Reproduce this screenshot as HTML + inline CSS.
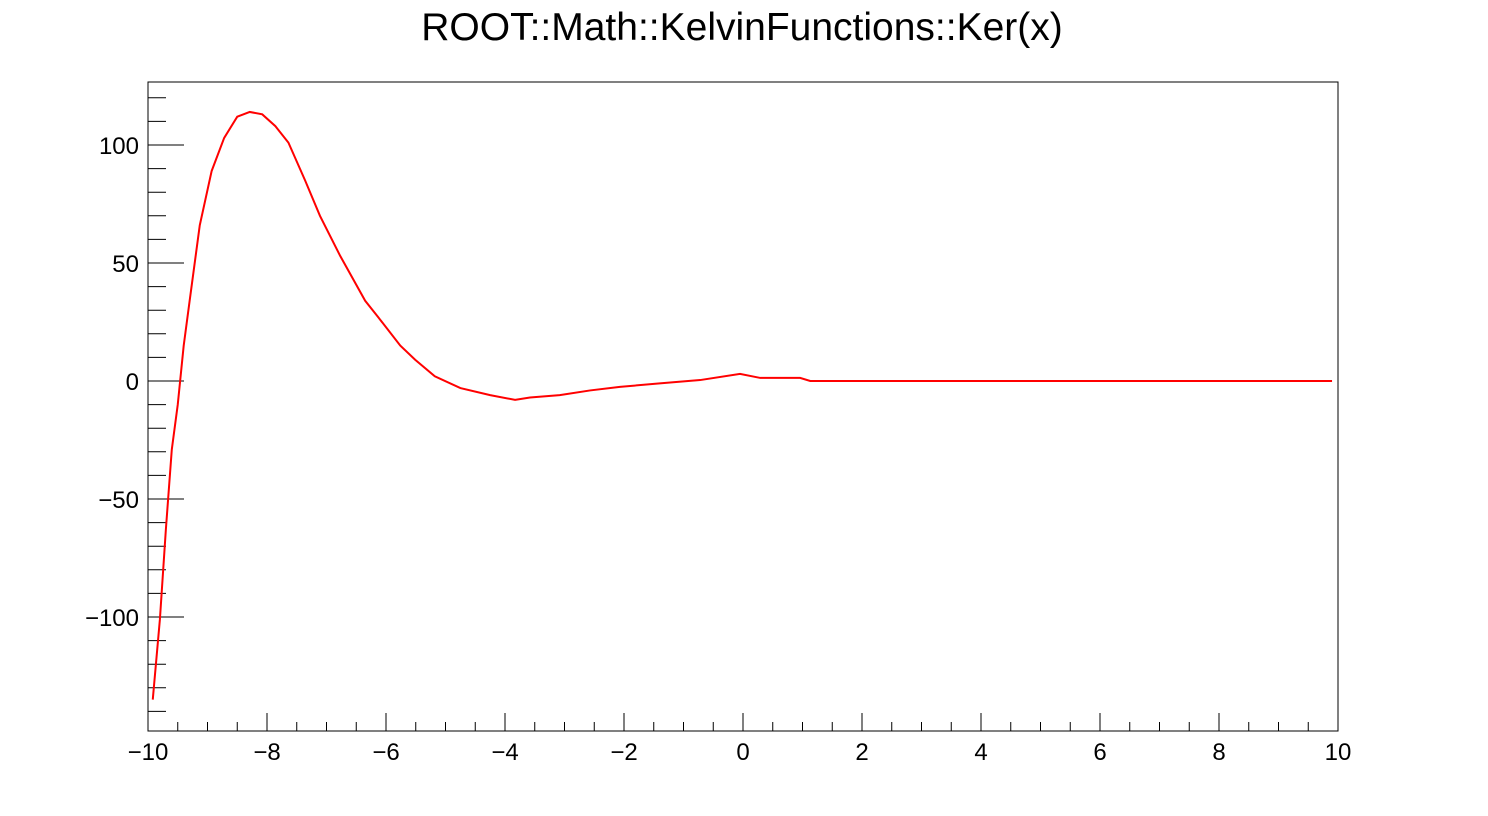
<!DOCTYPE html>
<html><head><meta charset="utf-8"><style>
body{margin:0;background:#fff}
svg{display:block;font-family:"Liberation Sans",sans-serif}
</style></head><body>
<svg id="c" width="1488" height="816">
<text x="742" y="40" font-size="39" text-anchor="middle">ROOT::Math::KelvinFunctions::Ker(x)</text>
<rect x="148" y="82" width="1190" height="649" fill="none" stroke="#000" stroke-width="1"/>
<g id="ax"></g>
<polyline id="line" fill="none" stroke="#ff0000" stroke-width="2"/>
</svg>
<script>
const xs=[-9.92,-9.8,-9.7,-9.6,-9.5,-9.4,-9.3,-9.13,-8.93,-8.72,-8.5,-8.29,-8.08,-7.86,-7.64,-7.36,-7.11,-6.77,-6.35,-6.13,-5.76,-5.51,-5.18,-4.75,-4.25,-3.83,-3.58,-3.08,-2.57,-2.07,-1.4,-0.72,-0.05,0.29,0.96,1.13,9.9];
const ys=[-135,-101,-63,-29,-10,15,34,66,89,103,112,114,113,108,101,85,70,53,34,27,15,9,2,-3,-6,-8,-7,-6,-4,-2.5,-1,0.4,3,1.3,1.3,0,0];
const xTicks=[-10,-8,-6,-4,-2,0,2,4,6,8,10];
const yTicks=[-100,-50,0,50,100];
const X=v=>148+(v+10)*59.5, Y=v=>381-v*2.36;
const ns="http://www.w3.org/2000/svg",ax=document.getElementById('ax');
function ln(x1,y1,x2,y2,n){const l=document.createElementNS(ns,'line');
l.setAttribute('x1',x1);l.setAttribute('y1',y1);l.setAttribute('x2',x2);l.setAttribute('y2',y2);l.setAttribute('stroke','#000');


ax.appendChild(l);}
function tx(x,y,s,a,n){const t=document.createElementNS(ns,'text');t.setAttribute('x',x);t.setAttribute('y',y);t.setAttribute('font-size','24');t.setAttribute('text-anchor',a);t.textContent=s;


ax.appendChild(t);}
for(let v=-10;v<=10.001;v+=0.5){const maj=Math.abs(v/2-Math.round(v/2))<1e-6;ln(X(v),731,X(v),731-(maj?18:9),'x-tick');}
for(let v=-140;v<=120;v+=10){const maj=v%50===0;ln(148,Y(v),148+(maj?36:18),Y(v),'y-tick');}
xTicks.forEach(v=>tx(X(v),760,(v<0?'\u2212':'')+Math.abs(v),'middle','x-tick-label'));
yTicks.forEach(v=>tx(139,Y(v)+9,(v<0?'\u2212':'')+Math.abs(v),'end','y-tick-label'));
document.getElementById('line').setAttribute('points',xs.map((x,i)=>X(x)+','+Y(ys[i])).join(' '));
</script>
</body></html>
